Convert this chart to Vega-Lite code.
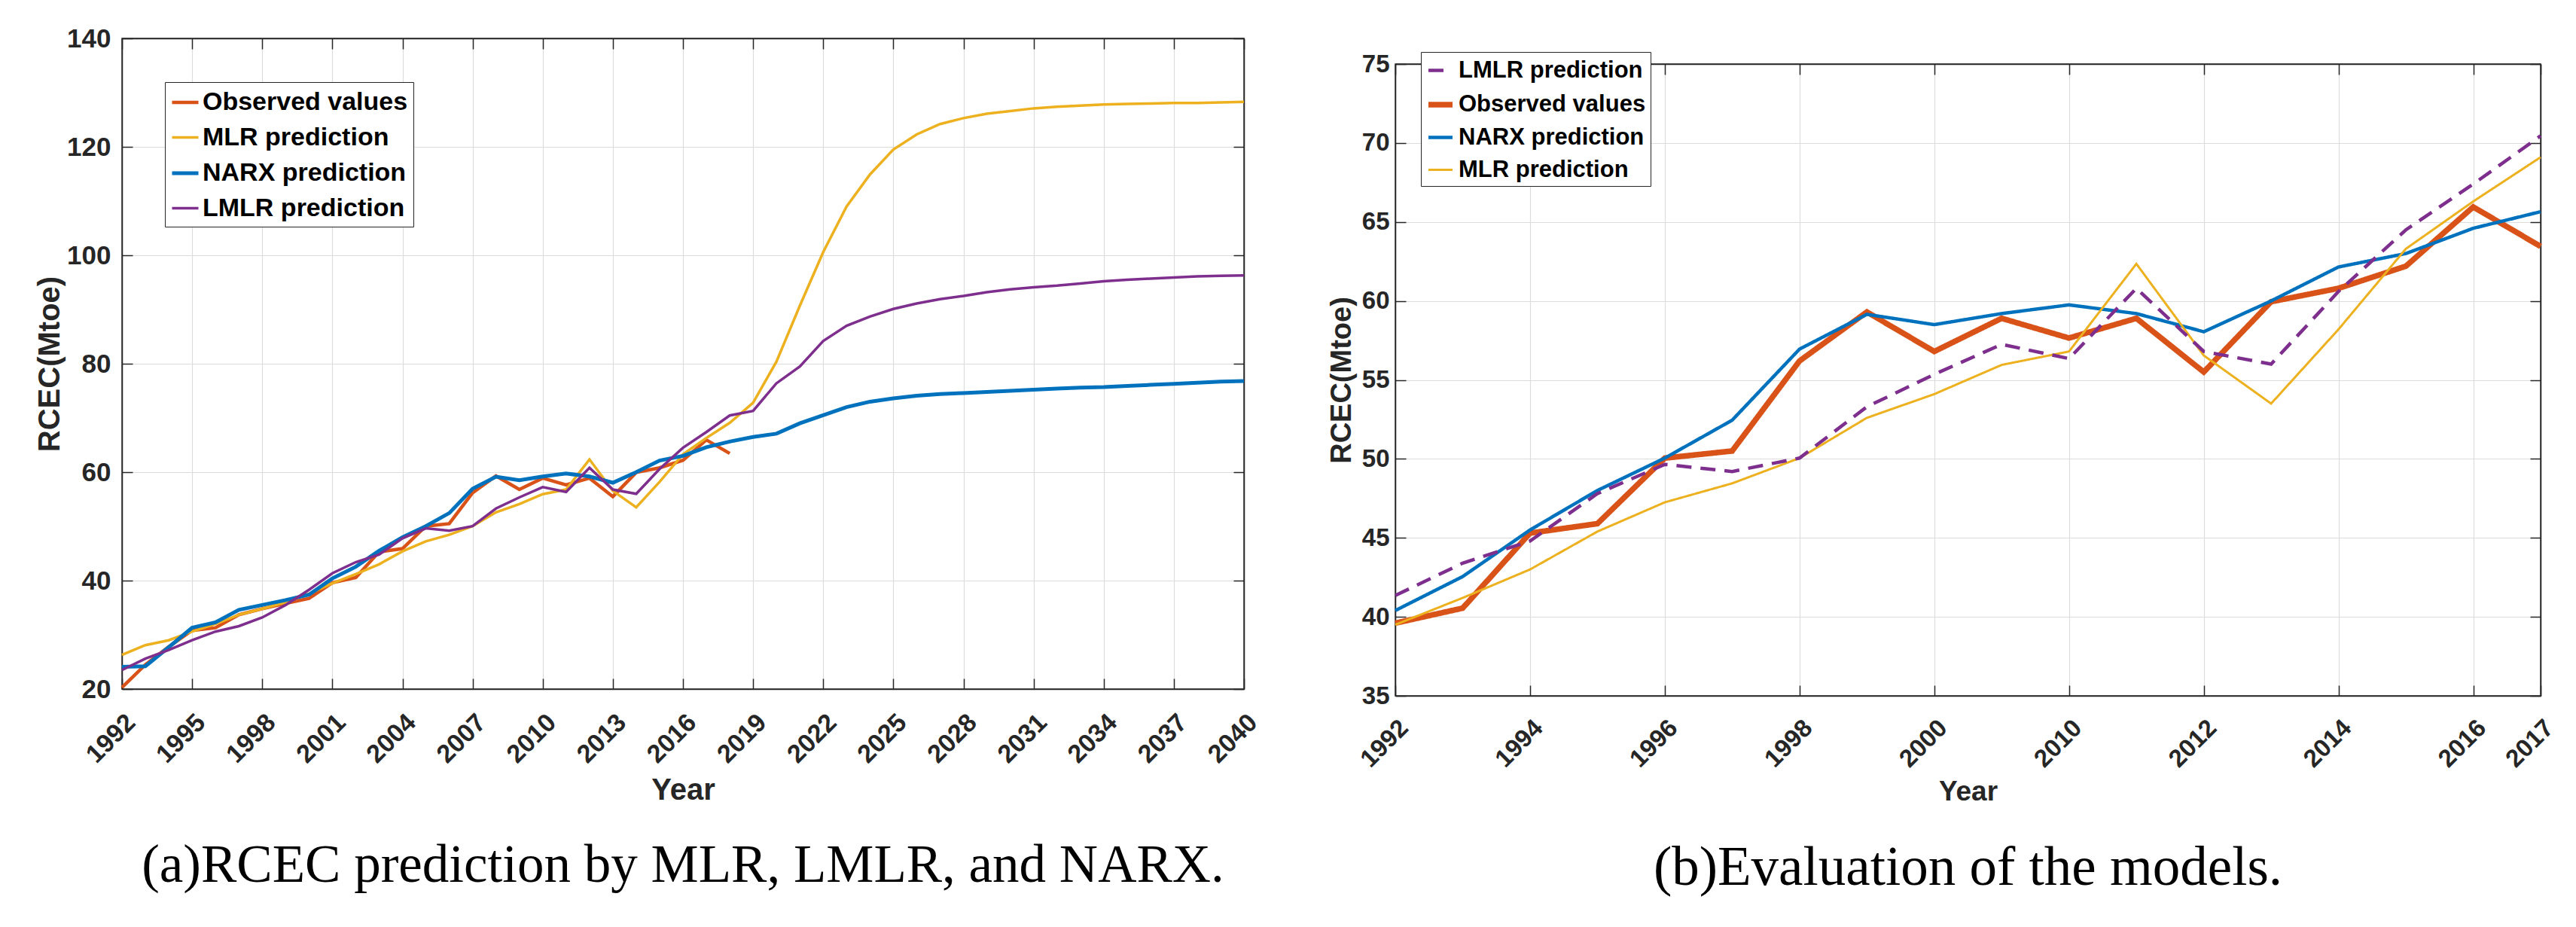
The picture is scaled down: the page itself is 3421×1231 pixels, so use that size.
{
  "$schema": "https://vega.github.io/schema/vega-lite/v6.json",
  "background": "white",
  "padding": {"left": 45, "top": 33, "right": 0, "bottom": 0},
  "spacing": 85,
  "resolve": {"scale": {"color": "independent", "strokeWidth": "independent", "strokeDash": "independent"}},
  "config": {
    "font": "Liberation Sans",
    "view": {"stroke": "#262626", "strokeWidth": 1.5},
    "axis": {
      "labelFont": "Liberation Sans", "labelFontWeight": "bold", "labelColor": "#262626",
      "titleFont": "Liberation Sans", "titleFontWeight": "bold", "titleColor": "#262626",
      "domainColor": "#262626", "domainWidth": 1.5,
      "tickColor": "#262626", "tickWidth": 1.5, "tickSize": -14,
      "gridColor": "#dcdcdc", "gridWidth": 1.2,
      "labelFlush": false, "labelOverlap": false
    },
    "legend": {
      "title": null, "symbolType": "stroke", "labelFont": "Liberation Sans", "labelFontWeight": "bold",
      "labelColor": "black", "labelLimit": 0, "rowPadding": 10,
      "strokeColor": "#262626", "fillColor": "white"
    }
  },
  "datasets": {
    "left": [
      {"Year": 1992, "Observed values": 20.3, "MLR prediction": 26.3, "NARX prediction": 24.1, "LMLR prediction": 23.5},
      {"Year": 1993, "Observed values": 24.5, "MLR prediction": 28.1, "NARX prediction": 24.2, "LMLR prediction": 25.6},
      {"Year": 1994, "Observed values": 27.8, "MLR prediction": 29.0, "NARX prediction": 27.7, "LMLR prediction": 27.2},
      {"Year": 1995, "Observed values": 30.8, "MLR prediction": 30.6, "NARX prediction": 31.3, "LMLR prediction": 29.0},
      {"Year": 1996, "Observed values": 31.3, "MLR prediction": 32.0, "NARX prediction": 32.3, "LMLR prediction": 30.6},
      {"Year": 1997, "Observed values": 33.7, "MLR prediction": 33.7, "NARX prediction": 34.6, "LMLR prediction": 31.6},
      {"Year": 1998, "Observed values": 34.8, "MLR prediction": 34.8, "NARX prediction": 35.5, "LMLR prediction": 33.2},
      {"Year": 1999, "Observed values": 35.8, "MLR prediction": 36.0, "NARX prediction": 36.4, "LMLR prediction": 35.5},
      {"Year": 2000, "Observed values": 36.7, "MLR prediction": 37.6, "NARX prediction": 37.4, "LMLR prediction": 38.3},
      {"Year": 2001, "Observed values": 39.6, "MLR prediction": 39.5, "NARX prediction": 40.4, "LMLR prediction": 41.35},
      {"Year": 2002, "Observed values": 40.55, "MLR prediction": 41.2, "NARX prediction": 42.55, "LMLR prediction": 43.4},
      {"Year": 2003, "Observed values": 45.3, "MLR prediction": 43.0, "NARX prediction": 45.5, "LMLR prediction": 44.8},
      {"Year": 2004, "Observed values": 45.9, "MLR prediction": 45.4, "NARX prediction": 48.0, "LMLR prediction": 47.8},
      {"Year": 2005, "Observed values": 50.05, "MLR prediction": 47.25, "NARX prediction": 50.05, "LMLR prediction": 49.65},
      {"Year": 2006, "Observed values": 50.5, "MLR prediction": 48.45, "NARX prediction": 52.45, "LMLR prediction": 49.2},
      {"Year": 2007, "Observed values": 56.2, "MLR prediction": 50.05, "NARX prediction": 56.95, "LMLR prediction": 50.05},
      {"Year": 2008, "Observed values": 59.3, "MLR prediction": 52.6, "NARX prediction": 59.15, "LMLR prediction": 53.3},
      {"Year": 2009, "Observed values": 56.8, "MLR prediction": 54.1, "NARX prediction": 58.5, "LMLR prediction": 55.35},
      {"Year": 2010, "Observed values": 58.9, "MLR prediction": 55.95, "NARX prediction": 59.2, "LMLR prediction": 57.25},
      {"Year": 2011, "Observed values": 57.65, "MLR prediction": 56.8, "NARX prediction": 59.75, "LMLR prediction": 56.35},
      {"Year": 2012, "Observed values": 58.9, "MLR prediction": 62.35, "NARX prediction": 59.2, "LMLR prediction": 60.8},
      {"Year": 2013, "Observed values": 55.5, "MLR prediction": 56.55, "NARX prediction": 58.05, "LMLR prediction": 56.8},
      {"Year": 2014, "Observed values": 59.95, "MLR prediction": 53.5, "NARX prediction": 60.0, "LMLR prediction": 56.0},
      {"Year": 2015, "Observed values": 60.8, "MLR prediction": 58.2, "NARX prediction": 62.15, "LMLR prediction": 60.6},
      {"Year": 2016, "Observed values": 62.2, "MLR prediction": 63.3, "NARX prediction": 63.0, "LMLR prediction": 64.5},
      {"Year": 2017, "Observed values": 65.95, "MLR prediction": 66.3, "NARX prediction": 64.6, "LMLR prediction": 67.4},
      {"Year": 2018, "Observed values": 63.45, "MLR prediction": 69.1, "NARX prediction": 65.65, "LMLR prediction": 70.45},
      {"Year": 2019, "MLR prediction": 72.8, "NARX prediction": 66.5, "LMLR prediction": 71.3},
      {"Year": 2020, "MLR prediction": 80.4, "NARX prediction": 67.1, "LMLR prediction": 76.4},
      {"Year": 2021, "MLR prediction": 90.7, "NARX prediction": 69.0, "LMLR prediction": 79.5},
      {"Year": 2022, "MLR prediction": 100.6, "NARX prediction": 70.5, "LMLR prediction": 84.2},
      {"Year": 2023, "MLR prediction": 109.0, "NARX prediction": 72.0, "LMLR prediction": 87.0},
      {"Year": 2024, "MLR prediction": 114.9, "NARX prediction": 73.0, "LMLR prediction": 88.7},
      {"Year": 2025, "MLR prediction": 119.5, "NARX prediction": 73.6, "LMLR prediction": 90.1},
      {"Year": 2026, "MLR prediction": 122.3, "NARX prediction": 74.1, "LMLR prediction": 91.1},
      {"Year": 2027, "MLR prediction": 124.2, "NARX prediction": 74.4, "LMLR prediction": 91.9},
      {"Year": 2028, "MLR prediction": 125.3, "NARX prediction": 74.6, "LMLR prediction": 92.5},
      {"Year": 2029, "MLR prediction": 126.1, "NARX prediction": 74.8, "LMLR prediction": 93.2},
      {"Year": 2030, "MLR prediction": 126.6, "NARX prediction": 75.0, "LMLR prediction": 93.7},
      {"Year": 2031, "MLR prediction": 127.1, "NARX prediction": 75.2, "LMLR prediction": 94.1},
      {"Year": 2032, "MLR prediction": 127.4, "NARX prediction": 75.4, "LMLR prediction": 94.4},
      {"Year": 2033, "MLR prediction": 127.6, "NARX prediction": 75.6, "LMLR prediction": 94.8},
      {"Year": 2034, "MLR prediction": 127.8, "NARX prediction": 75.7, "LMLR prediction": 95.2},
      {"Year": 2035, "MLR prediction": 127.9, "NARX prediction": 75.9, "LMLR prediction": 95.5},
      {"Year": 2036, "MLR prediction": 128.0, "NARX prediction": 76.1, "LMLR prediction": 95.7},
      {"Year": 2037, "MLR prediction": 128.1, "NARX prediction": 76.3, "LMLR prediction": 95.9},
      {"Year": 2038, "MLR prediction": 128.1, "NARX prediction": 76.5, "LMLR prediction": 96.1},
      {"Year": 2039, "MLR prediction": 128.2, "NARX prediction": 76.7, "LMLR prediction": 96.2},
      {"Year": 2040, "MLR prediction": 128.3, "NARX prediction": 76.8, "LMLR prediction": 96.3}
    ],
    "right": [
      {"Point": 0, "LMLR prediction": 41.35, "Observed values": 39.6, "NARX prediction": 40.4, "MLR prediction": 39.5},
      {"Point": 1, "LMLR prediction": 43.4, "Observed values": 40.55, "NARX prediction": 42.55, "MLR prediction": 41.2},
      {"Point": 2, "LMLR prediction": 44.8, "Observed values": 45.3, "NARX prediction": 45.5, "MLR prediction": 43.0},
      {"Point": 3, "LMLR prediction": 47.8, "Observed values": 45.9, "NARX prediction": 48.0, "MLR prediction": 45.4},
      {"Point": 4, "LMLR prediction": 49.65, "Observed values": 50.05, "NARX prediction": 50.05, "MLR prediction": 47.25},
      {"Point": 5, "LMLR prediction": 49.2, "Observed values": 50.5, "NARX prediction": 52.45, "MLR prediction": 48.45},
      {"Point": 6, "LMLR prediction": 50.05, "Observed values": 56.2, "NARX prediction": 56.95, "MLR prediction": 50.05},
      {"Point": 7, "LMLR prediction": 53.3, "Observed values": 59.3, "NARX prediction": 59.15, "MLR prediction": 52.6},
      {"Point": 8, "LMLR prediction": 55.35, "Observed values": 56.8, "NARX prediction": 58.5, "MLR prediction": 54.1},
      {"Point": 9, "LMLR prediction": 57.25, "Observed values": 58.9, "NARX prediction": 59.2, "MLR prediction": 55.95},
      {"Point": 10, "LMLR prediction": 56.35, "Observed values": 57.65, "NARX prediction": 59.75, "MLR prediction": 56.8},
      {"Point": 11, "LMLR prediction": 60.8, "Observed values": 58.9, "NARX prediction": 59.2, "MLR prediction": 62.35},
      {"Point": 12, "LMLR prediction": 56.8, "Observed values": 55.5, "NARX prediction": 58.05, "MLR prediction": 56.55},
      {"Point": 13, "LMLR prediction": 56.0, "Observed values": 59.95, "NARX prediction": 60.0, "MLR prediction": 53.5},
      {"Point": 14, "LMLR prediction": 60.6, "Observed values": 60.8, "NARX prediction": 62.15, "MLR prediction": 58.2},
      {"Point": 15, "LMLR prediction": 64.5, "Observed values": 62.2, "NARX prediction": 63.0, "MLR prediction": 63.3},
      {"Point": 16, "LMLR prediction": 67.4, "Observed values": 65.95, "NARX prediction": 64.6, "MLR prediction": 66.3},
      {"Point": 17, "LMLR prediction": 70.45, "Observed values": 63.45, "NARX prediction": 65.65, "MLR prediction": 69.1}
    ]
  },
  "hconcat": [
    {
      "width": 1490,
      "height": 864,
      "data": {"name": "left"},
      "transform": [{"fold": ["Observed values", "MLR prediction", "NARX prediction", "LMLR prediction"], "as": ["Series", "RCEC"]}],
      "title": {"text": "(a)RCEC prediction by MLR, LMLR, and NARX.", "orient": "bottom", "font": "Liberation Serif", "fontSize": 71, "fontWeight": "normal", "color": "black", "offset": 45},
      "layer": [
        {
          "mark": {"type": "line", "strokeJoin": "miter"},
          "encoding": {
            "x": {"field": "Year", "type": "quantitative", "scale": {"domain": [1992, 2040], "nice": false},
              "axis": {"orient": "bottom", "values": [1992, 1995, 1998, 2001, 2004, 2007, 2010, 2013, 2016, 2019, 2022, 2025, 2028, 2031, 2034, 2037, 2040], "format": "d", "labelAngle": -45, "labelAlign": "right", "labelBaseline": "top", "labelFontSize": 34, "labelPadding": 41, "title": "Year", "titleFontSize": 40, "titlePadding": 10, "grid": true}},
            "y": {"field": "RCEC", "type": "quantitative", "scale": {"domain": [20, 140], "nice": false},
              "axis": {"orient": "left", "values": [20, 40, 60, 80, 100, 120, 140], "labelFontSize": 35, "labelPadding": 29, "title": "RCEC(Mtoe)", "titleFontSize": 40, "titlePadding": 2, "grid": true}},
            "color": {"field": "Series", "type": "nominal",
              "scale": {"domain": ["Observed values", "MLR prediction", "NARX prediction", "LMLR prediction"], "range": ["#D95319", "#EDB120", "#0072BD", "#7E2F8E"]},
              "legend": {"orient": "none", "legendX": 57, "legendY": 58, "symbolSize": 1225, "labelFontSize": 34, "labelOffset": 3, "padding": 7}},
            "strokeWidth": {"field": "Series", "type": "nominal",
              "scale": {"type": "ordinal", "domain": ["Observed values", "MLR prediction", "NARX prediction", "LMLR prediction"], "range": [4.5, 3.5, 5, 3.5]},
              "legend": {"orient": "none", "legendX": 57, "legendY": 58, "symbolSize": 1225, "labelFontSize": 34, "labelOffset": 3, "padding": 7}}
          }
        },
        {
          "mark": {"type": "point", "opacity": 0},
          "encoding": {
            "x": {"field": "Year", "type": "quantitative", "axis": {"orient": "top", "values": [1992, 1995, 1998, 2001, 2004, 2007, 2010, 2013, 2016, 2019, 2022, 2025, 2028, 2031, 2034, 2037, 2040], "labels": false, "title": null, "grid": false}},
            "y": {"field": "RCEC", "type": "quantitative", "axis": {"orient": "right", "values": [20, 40, 60, 80, 100, 120, 140], "labels": false, "title": null, "grid": false}}
          }
        }
      ],
      "resolve": {"axis": {"x": "independent", "y": "independent"}}
    },
    {
      "spacing": 13,
      "vconcat": [
        {
          "width": 1521,
          "height": 1,
          "view": {"stroke": null},
          "data": {"values": [{"k": 0}]},
          "mark": {"type": "point", "opacity": 0},
          "encoding": {}
        },
        {
          "width": 1521,
          "height": 839,
          "data": {"name": "right"},
          "transform": [{"fold": ["Observed values", "NARX prediction", "MLR prediction", "LMLR prediction"], "as": ["Series", "RCEC"]}],
          "title": {"text": "(b)Evaluation of the models.", "orient": "bottom", "font": "Liberation Serif", "fontSize": 73, "fontWeight": "normal", "color": "black", "offset": 48},
          "layer": [
            {
              "mark": {"type": "line", "strokeJoin": "miter"},
              "encoding": {
                "x": {"field": "Point", "type": "quantitative", "scale": {"domain": [0, 17], "nice": false},
                  "axis": {"orient": "bottom", "values": [0, 2, 4, 6, 8, 10, 12, 14, 16, 17], "labelExpr": "['1992','','1994','','1996','','1998','','2000','','2010','','2012','','2014','','2016','2017'][datum.value]", "labelAngle": -45, "labelAlign": "right", "labelBaseline": "top", "labelFontSize": 33, "labelPadding": 40, "title": "Year", "titleFontSize": 37, "titlePadding": 8, "grid": true}},
                "y": {"field": "RCEC", "type": "quantitative", "scale": {"domain": [35, 75], "nice": false},
                  "axis": {"orient": "left", "values": [35, 40, 45, 50, 55, 60, 65, 70, 75], "labelFontSize": 33, "labelPadding": 22, "title": "RCEC(Mtoe)", "titleFontSize": 38, "titlePadding": 7, "grid": true}},
                "color": {"field": "Series", "type": "nominal",
                  "scale": {"domain": ["LMLR prediction", "Observed values", "NARX prediction", "MLR prediction"], "range": ["#7E2F8E", "#D95319", "#0072BD", "#EDB120"]},
                  "legend": {"orient": "none", "legendX": 34, "legendY": 18, "symbolSize": 1024, "labelFontSize": 31, "labelOffset": 4, "padding": 6}},
                "strokeWidth": {"field": "Series", "type": "nominal",
                  "scale": {"type": "ordinal", "domain": ["LMLR prediction", "Observed values", "NARX prediction", "MLR prediction"], "range": [4.5, 7.5, 4.5, 3]},
                  "legend": {"orient": "none", "legendX": 34, "legendY": 18, "symbolSize": 1024, "labelFontSize": 31, "labelOffset": 4, "padding": 6}},
                "strokeDash": {"field": "Series", "type": "nominal",
                  "scale": {"domain": ["LMLR prediction", "Observed values", "NARX prediction", "MLR prediction"], "range": [[20, 12], [1, 0], [1, 0], [1, 0]]},
                  "legend": {"orient": "none", "legendX": 34, "legendY": 18, "symbolSize": 1024, "labelFontSize": 31, "labelOffset": 4, "padding": 6}}
              }
            },
            {
              "mark": {"type": "point", "opacity": 0},
              "encoding": {
                "x": {"field": "Point", "type": "quantitative", "axis": {"orient": "top", "values": [0, 2, 4, 6, 8, 10, 12, 14, 16, 17], "labels": false, "title": null, "grid": false}},
                "y": {"field": "RCEC", "type": "quantitative", "axis": {"orient": "right", "values": [35, 40, 45, 50, 55, 60, 65, 70, 75], "labels": false, "title": null, "grid": false}}
              }
            }
          ],
          "resolve": {"axis": {"x": "independent", "y": "independent"}}
        }
      ]
    }
  ]
}
